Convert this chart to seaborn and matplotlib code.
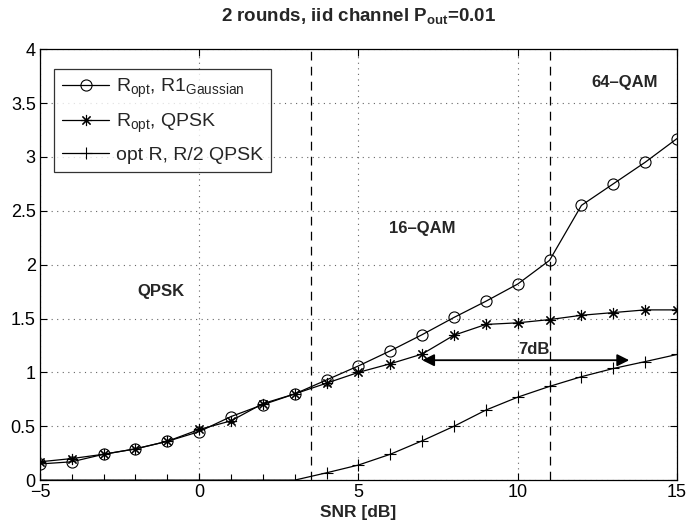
import matplotlib
matplotlib.use("Agg")
import matplotlib.pyplot as plt
import seaborn as sns
import numpy as np

snr = [-5, -4, -3, -2, -1, 0, 1, 2, 3, 4, 5, 6, 7, 8, 9, 10, 11, 12, 13, 14, 15]
r_gauss = [0.15, 0.17, 0.24, 0.29, 0.36, 0.45, 0.59, 0.70, 0.80, 0.93, 1.06, 1.20,
           1.35, 1.51, 1.66, 1.82, 2.04, 2.55, 2.75, 2.95, 3.17]
r_qpsk = [0.17, 0.20, 0.24, 0.29, 0.36, 0.47, 0.55, 0.71, 0.80, 0.90, 1.00, 1.08,
          1.17, 1.345, 1.445, 1.46, 1.49, 1.53, 1.555, 1.58, 1.58]
r_half = [0.0, 0.0, 0.0, 0.0, 0.0, 0.0, 0.0, 0.0, 0.0, 0.068, 0.14, 0.24,
          0.365, 0.50, 0.65, 0.77, 0.87, 0.96, 1.036, 1.10, 1.166]
labels = [r"R$_{\rm opt}$, R1$_{\rm Gaussian}$", r"R$_{\rm opt}$, QPSK", "opt R, R/2 QPSK"]
boundaries = [3.5, 11]
regions = ["QPSK", "16\u2013QAM", "64\u2013QAM"]
region_pos = [(-1.2, 1.75), (7.0, 2.34), (13.35, 3.69)]
gap_label = "7dB"
gap_start, gap_end, gap_y = 7.0, 13.5, 1.113

sns.set_style("ticks")
plt.rcParams['font.family'] = ['Liberation Sans', 'DejaVu Sans']
plt.rcParams['mathtext.fontset'] = 'custom'
plt.rcParams['mathtext.rm'] = 'Liberation Sans'
plt.rcParams['mathtext.bf'] = 'Liberation Sans:bold'

fig = plt.figure(figsize=(6.88, 5.23), dpi=100)
ax = fig.add_axes([0.058, 0.082, 0.926, 0.824])

sns.lineplot(x=snr, y=r_gauss, ax=ax, color='black', lw=0.9, marker='o', markersize=8,
             markerfacecolor='none', markeredgecolor='black', markeredgewidth=0.8, label=labels[0])
sns.lineplot(x=snr, y=r_qpsk, ax=ax, color='black', lw=0.9, marker=(8, 2, 0), markersize=8,
             markeredgecolor='black', markeredgewidth=0.8, label=labels[1])
sns.lineplot(x=snr, y=r_half, ax=ax, color='black', lw=0.9, marker='+', markersize=9,
             markeredgecolor='black', markeredgewidth=0.8, label=labels[2])

for b in boundaries:
    ax.axvline(b, color='black', lw=0.9, ls=(0, (7, 5)))

for t, (x, y) in zip(regions, region_pos):
    ax.text(x, y, t, ha='center', va='center', fontsize=12, fontweight='bold')

ax.annotate("", xy=(gap_start, gap_y), xytext=(gap_end, gap_y),
            arrowprops=dict(arrowstyle='<|-|>', color='black', lw=1.3,
                            mutation_scale=18, shrinkA=0, shrinkB=0))
ax.text((gap_start + gap_end) / 2 + 0.25, gap_y + 0.03, gap_label, ha='center', va='bottom',
        fontsize=12, fontweight='bold')

ax.set_xlim(-5, 15)
ax.set_ylim(0, 4)
ax.set_xticks([-5, 0, 5, 10, 15])
ax.set_yticks([0, 0.5, 1, 1.5, 2, 2.5, 3, 3.5, 4])
ax.set_yticklabels(["0", "0.5", "1", "1.5", "2", "2.5", "3", "3.5", "4"])
ax.tick_params(direction='in', top=True, right=True, labelsize=13, length=5, width=0.8,
               colors='black', pad=3)
ax.grid(True, ls=(0, (1, 4)), color='#666666', lw=0.8)
for s in ax.spines.values():
    s.set_visible(True)
    s.set_linewidth(0.9)
    s.set_color('black')

ax.set_xlabel("SNR [dB]", fontsize=12.5, fontweight='bold', labelpad=3)
ax.set_title(r"2 rounds, iid channel P$_{\mathbf{out}}$=0.01", fontsize=13.5,
             fontweight='bold', pad=20)

leg = ax.legend(loc='upper left', bbox_to_anchor=(0.022, 0.955), borderaxespad=0,
                fontsize=14, frameon=True, fancybox=False, edgecolor='black',
                handlelength=2.45, borderpad=0.4, labelspacing=0.6, handletextpad=0.35)
leg.get_frame().set_linewidth(0.9)

fig.savefig("out.png", dpi=100)
